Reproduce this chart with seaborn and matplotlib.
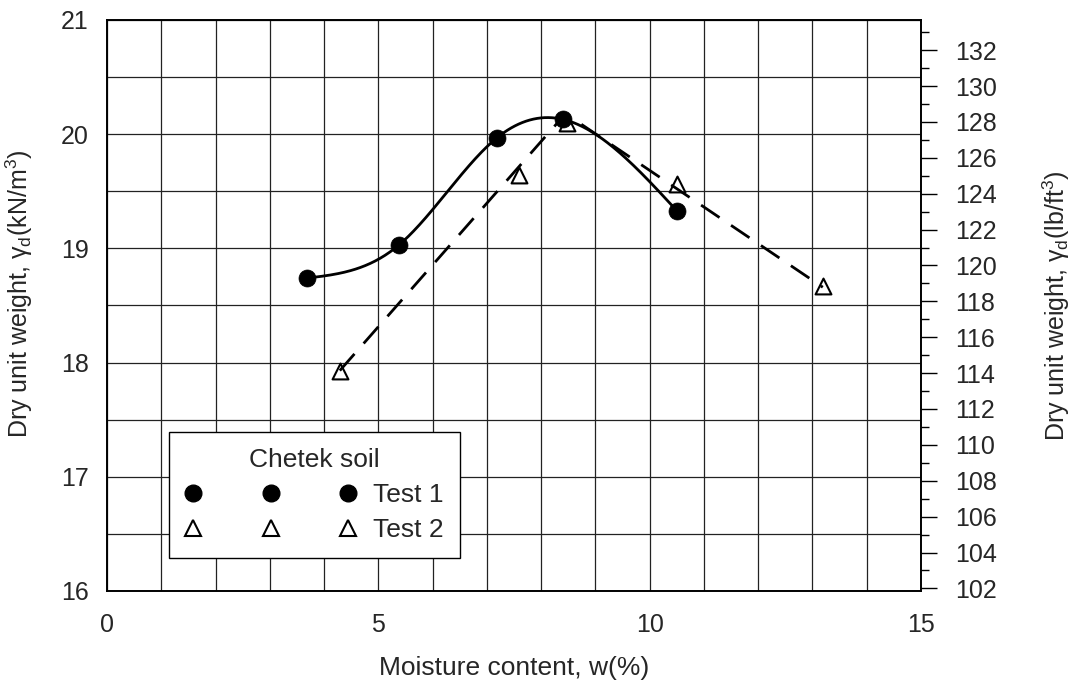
import numpy as np
import pandas as pd
import matplotlib
matplotlib.use("Agg")
import matplotlib.pyplot as plt
from matplotlib.lines import Line2D
from matplotlib.ticker import MultipleLocator
import seaborn as sns

# ---- data ----
test1_w = [3.69, 5.38, 7.19, 8.40, 10.50]
test1_gd = [18.74, 19.03, 19.97, 20.13, 19.33]
test2_w = [4.29, 7.59, 8.47, 10.50, 13.19]
test2_gd = [17.93, 19.64, 20.10, 19.56, 18.67]
# hand-drawn fit line (dashed) for Test 2
fit2_w = [4.29, 8.45, 13.19]
fit2_gd = [17.93, 20.18, 18.66]
KN_TO_PCF = 6.3659
xlim = (0, 15)
ylim = (16, 21)

sns.set_style("white")
plt.rcParams['font.family'] = ['Liberation Sans', 'DejaVu Sans']
plt.rcParams['mathtext.fontset'] = 'custom'
plt.rcParams['mathtext.rm'] = 'Liberation Sans'


def natural_cubic(x, y, xs):
    x = np.asarray(x, float); y = np.asarray(y, float)
    n = len(x)
    h = np.diff(x)
    A = np.zeros((n, n)); b = np.zeros(n)
    A[0, 0] = 1; A[-1, -1] = 1
    for i in range(1, n - 1):
        A[i, i - 1] = h[i - 1]
        A[i, i] = 2 * (h[i - 1] + h[i])
        A[i, i + 1] = h[i]
        b[i] = 6 * ((y[i + 1] - y[i]) / h[i] - (y[i] - y[i - 1]) / h[i - 1])
    M = np.linalg.solve(A, b)
    out = np.empty_like(xs)
    for k, xv in enumerate(xs):
        i = min(max(np.searchsorted(x, xv) - 1, 0), n - 2)
        t1 = x[i + 1] - xv; t0 = xv - x[i]
        out[k] = (M[i] * t1**3 + M[i + 1] * t0**3) / (6 * h[i]) \
            + (y[i] / h[i] - M[i] * h[i] / 6) * t1 \
            + (y[i + 1] / h[i] - M[i + 1] * h[i] / 6) * t0
    return out


xs = np.linspace(test1_w[0], test1_w[-1], 300)
ys = natural_cubic(test1_w, test1_gd, xs)

fig = plt.figure(figsize=(10.73, 6.87), dpi=100)
ax = fig.add_axes([107/1073, 96/687, 814/1073, 571/687])

df1 = pd.DataFrame({"w": test1_w, "gd": test1_gd})
df2 = pd.DataFrame({"w": test2_w, "gd": test2_gd})

sns.scatterplot(data=df2, x="w", y="gd", marker="^", s=130, facecolor="white",
                edgecolor="black", linewidth=1.5, ax=ax, zorder=3)
sns.lineplot(x=fit2_w, y=fit2_gd, sort=False, estimator=None, color="black",
             lw=2.0, linestyle=(0, (8, 5)), ax=ax, zorder=4)
sns.lineplot(x=xs, y=ys, sort=False, estimator=None, color="black", lw=2.0,
             ax=ax, zorder=5)
sns.scatterplot(data=df1, x="w", y="gd", marker="o", s=150, color="black",
                edgecolor="black", linewidth=0.5, ax=ax, zorder=6)

ax.set_xlim(*xlim)
ax.set_ylim(*ylim)
ax.xaxis.set_major_locator(MultipleLocator(5))
ax.xaxis.set_minor_locator(MultipleLocator(1))
ax.yaxis.set_major_locator(MultipleLocator(1))
ax.yaxis.set_minor_locator(MultipleLocator(0.5))
ax.grid(which='both', color='#222222', lw=0.9)
ax.set_axisbelow(True)
ax.tick_params(axis='both', which='both', length=0)
ax.tick_params(axis='x', labelsize=18, pad=16)
ax.tick_params(axis='y', labelsize=18, pad=13)
for sp in ax.spines.values():
    sp.set_color('black'); sp.set_linewidth(1.2); sp.set_visible(True)

ax.set_xlabel("Moisture content, w(%)", fontsize=19)
ax.set_ylabel("Dry unit weight, γ$_\\mathregular{d}$(kN/m$^\\mathregular{3}$)", fontsize=18)
ax.xaxis.set_label_coords(0.5, -0.114)
ax.yaxis.set_label_coords(-0.088, 0.52)

ax2 = ax.twinx()
ax2.set_ylim(ylim[0] * KN_TO_PCF, ylim[1] * KN_TO_PCF)
ax2.yaxis.set_major_locator(MultipleLocator(2))
ax2.yaxis.set_minor_locator(MultipleLocator(1))
ax2.tick_params(axis='y', which='major', direction='out', length=11.5, width=1,
                labelsize=18, pad=13, color='black', right=True)
ax2.tick_params(axis='y', which='minor', direction='out', length=6, width=1,
                color='black', right=True)
for sp in ax2.spines.values():
    sp.set_color('black'); sp.set_linewidth(1.2)
ax2.grid(False)
ax2.set_ylabel("Dry unit weight, γ$_\\mathregular{d}$(lb/ft$^\\mathregular{3}$)", fontsize=18)
ax2.yaxis.set_label_coords(1.147, 0.5)

handles = [
    Line2D([], [], marker='o', ls='none', color='black', markersize=12),
    Line2D([], [], marker='^', ls='none', markerfacecolor='white',
           markeredgecolor='black', markeredgewidth=1.5, markersize=11),
]
leg = ax.legend(handles, ["Test 1", "Test 2"], title="Chetek soil",
                loc='upper left', bbox_to_anchor=(0.0762, 0.2785),
                borderaxespad=0, numpoints=3, handlelength=6.5,
                handletextpad=0.64, fontsize=19, title_fontsize=19,
                fancybox=False, framealpha=1, edgecolor='black',
                borderpad=0.6, labelspacing=0.42)
leg.get_frame().set_linewidth(1.0)

fig.savefig("out.png", dpi=100)
